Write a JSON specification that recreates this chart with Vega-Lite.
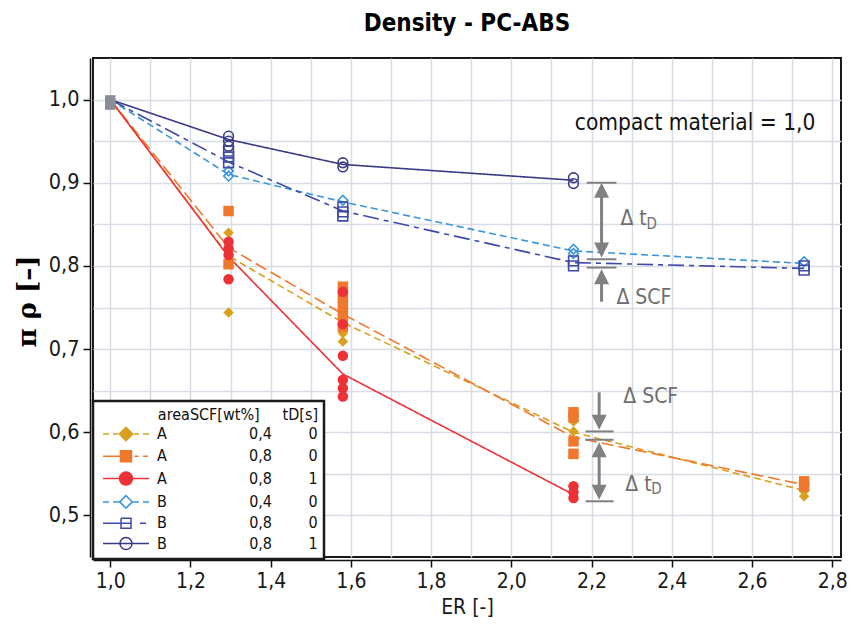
{
  "$schema": "https://vega.github.io/schema/vega-lite/v6.json",
  "width": 748,
  "height": 499,
  "autosize": {"type": "none"},
  "padding": {"left": 93, "top": 58, "right": 18, "bottom": 70},
  "background": "white",
  "title": {"text": "Density - PC-ABS", "font": "DejaVu Sans Condensed, DejaVu Sans", "fontSize": 24, "fontWeight": "bold", "color": "#000", "anchor": "middle", "offset": 22},
  "config": {
    "view": {"stroke": "#1a1a1a", "strokeWidth": 2},
    "legend": {"strokeWidth": 2.5},
    "axis": {"labelFont": "DejaVu Sans Condensed, DejaVu Sans", "titleFont": "DejaVu Sans Condensed, DejaVu Sans"}
  },
  "datasets": {
    "lines": [
      {"series": "A 0,4 0", "ER": 1.0, "rho": 1.0},
      {"series": "A 0,4 0", "ER": 1.295, "rho": 0.812},
      {"series": "A 0,4 0", "ER": 1.58, "rho": 0.732},
      {"series": "A 0,4 0", "ER": 2.155, "rho": 0.6},
      {"series": "A 0,4 0", "ER": 2.73, "rho": 0.53},
      {"series": "A 0,8 0", "ER": 1.0, "rho": 1.0},
      {"series": "A 0,8 0", "ER": 1.295, "rho": 0.822},
      {"series": "A 0,8 0", "ER": 1.58, "rho": 0.742},
      {"series": "A 0,8 0", "ER": 2.155, "rho": 0.594},
      {"series": "A 0,8 0", "ER": 2.73, "rho": 0.537},
      {"series": "A 0,8 1", "ER": 1.0, "rho": 1.0},
      {"series": "A 0,8 1", "ER": 1.295, "rho": 0.811},
      {"series": "A 0,8 1", "ER": 1.58, "rho": 0.67},
      {"series": "A 0,8 1", "ER": 2.155, "rho": 0.525},
      {"series": "B 0,4 0", "ER": 1.0, "rho": 1.0},
      {"series": "B 0,4 0", "ER": 1.295, "rho": 0.91},
      {"series": "B 0,4 0", "ER": 1.58, "rho": 0.877},
      {"series": "B 0,4 0", "ER": 2.155, "rho": 0.818},
      {"series": "B 0,4 0", "ER": 2.73, "rho": 0.803},
      {"series": "B 0,8 0", "ER": 1.0, "rho": 1.0},
      {"series": "B 0,8 0", "ER": 1.295, "rho": 0.925},
      {"series": "B 0,8 0", "ER": 1.58, "rho": 0.866},
      {"series": "B 0,8 0", "ER": 2.155, "rho": 0.804},
      {"series": "B 0,8 0", "ER": 2.73, "rho": 0.797},
      {"series": "B 0,8 1", "ER": 1.0, "rho": 1.0},
      {"series": "B 0,8 1", "ER": 1.295, "rho": 0.952},
      {"series": "B 0,8 1", "ER": 1.58, "rho": 0.922},
      {"series": "B 0,8 1", "ER": 2.155, "rho": 0.903}
    ],
    "pointsA": [
      {"series": "A 0,4 0", "ER": 1.295, "rho": 0.84},
      {"series": "A 0,4 0", "ER": 1.295, "rho": 0.744},
      {"series": "A 0,4 0", "ER": 1.58, "rho": 0.756},
      {"series": "A 0,4 0", "ER": 1.58, "rho": 0.744},
      {"series": "A 0,4 0", "ER": 1.58, "rho": 0.731},
      {"series": "A 0,4 0", "ER": 1.58, "rho": 0.719},
      {"series": "A 0,4 0", "ER": 1.58, "rho": 0.709},
      {"series": "A 0,4 0", "ER": 2.155, "rho": 0.613},
      {"series": "A 0,4 0", "ER": 2.155, "rho": 0.601},
      {"series": "A 0,4 0", "ER": 2.73, "rho": 0.529},
      {"series": "A 0,4 0", "ER": 2.73, "rho": 0.523},
      {"series": "A 0,8 0", "ER": 1.295, "rho": 0.866},
      {"series": "A 0,8 0", "ER": 1.295, "rho": 0.802},
      {"series": "A 0,8 0", "ER": 1.58, "rho": 0.775},
      {"series": "A 0,8 0", "ER": 1.58, "rho": 0.763},
      {"series": "A 0,8 0", "ER": 1.58, "rho": 0.751},
      {"series": "A 0,8 0", "ER": 1.58, "rho": 0.74},
      {"series": "A 0,8 0", "ER": 1.58, "rho": 0.727},
      {"series": "A 0,8 0", "ER": 2.155, "rho": 0.624},
      {"series": "A 0,8 0", "ER": 2.155, "rho": 0.618},
      {"series": "A 0,8 0", "ER": 2.155, "rho": 0.589},
      {"series": "A 0,8 0", "ER": 2.155, "rho": 0.574},
      {"series": "A 0,8 0", "ER": 2.73, "rho": 0.541},
      {"series": "A 0,8 0", "ER": 2.73, "rho": 0.535},
      {"series": "A 0,8 1", "ER": 1.295, "rho": 0.829},
      {"series": "A 0,8 1", "ER": 1.295, "rho": 0.821},
      {"series": "A 0,8 1", "ER": 1.295, "rho": 0.813},
      {"series": "A 0,8 1", "ER": 1.295, "rho": 0.784},
      {"series": "A 0,8 1", "ER": 1.58, "rho": 0.769},
      {"series": "A 0,8 1", "ER": 1.58, "rho": 0.73},
      {"series": "A 0,8 1", "ER": 1.58, "rho": 0.692},
      {"series": "A 0,8 1", "ER": 1.58, "rho": 0.663},
      {"series": "A 0,8 1", "ER": 1.58, "rho": 0.653},
      {"series": "A 0,8 1", "ER": 1.58, "rho": 0.643},
      {"series": "A 0,8 1", "ER": 2.155, "rho": 0.535},
      {"series": "A 0,8 1", "ER": 2.155, "rho": 0.528},
      {"series": "A 0,8 1", "ER": 2.155, "rho": 0.521}
    ],
    "pointsB": [
      {"series": "B 0,4 0", "ER": 1.295, "rho": 0.914},
      {"series": "B 0,4 0", "ER": 1.295, "rho": 0.908},
      {"series": "B 0,4 0", "ER": 1.58, "rho": 0.879},
      {"series": "B 0,4 0", "ER": 2.155, "rho": 0.82},
      {"series": "B 0,4 0", "ER": 2.155, "rho": 0.815},
      {"series": "B 0,4 0", "ER": 2.73, "rho": 0.805},
      {"series": "B 0,8 0", "ER": 1.295, "rho": 0.938},
      {"series": "B 0,8 0", "ER": 1.295, "rho": 0.931},
      {"series": "B 0,8 0", "ER": 1.295, "rho": 0.924},
      {"series": "B 0,8 0", "ER": 1.58, "rho": 0.871},
      {"series": "B 0,8 0", "ER": 1.58, "rho": 0.865},
      {"series": "B 0,8 0", "ER": 1.58, "rho": 0.86},
      {"series": "B 0,8 0", "ER": 2.155, "rho": 0.806},
      {"series": "B 0,8 0", "ER": 2.155, "rho": 0.8},
      {"series": "B 0,8 0", "ER": 2.73, "rho": 0.8},
      {"series": "B 0,8 0", "ER": 2.73, "rho": 0.795},
      {"series": "B 0,8 1", "ER": 1.295, "rho": 0.956},
      {"series": "B 0,8 1", "ER": 1.295, "rho": 0.95},
      {"series": "B 0,8 1", "ER": 1.295, "rho": 0.944},
      {"series": "B 0,8 1", "ER": 1.58, "rho": 0.924},
      {"series": "B 0,8 1", "ER": 1.58, "rho": 0.919},
      {"series": "B 0,8 1", "ER": 2.155, "rho": 0.906},
      {"series": "B 0,8 1", "ER": 2.155, "rho": 0.899}
    ],
    "start": [
      {"ER": 1.0, "rho": 0.999},
      {"ER": 1.0, "rho": 0.994}
    ],
    "bars": [
      {"ER": 2.188, "ER2": 2.262, "rho": 0.9},
      {"ER": 2.188, "ER2": 2.262, "rho": 0.808},
      {"ER": 2.188, "ER2": 2.262, "rho": 0.798},
      {"ER": 2.185, "ER2": 2.255, "rho": 0.601},
      {"ER": 2.185, "ER2": 2.255, "rho": 0.591},
      {"ER": 2.185, "ER2": 2.255, "rho": 0.517}
    ],
    "shafts": [
      {"ER": 2.225, "rho": 0.884, "rho2": 0.826},
      {"ER": 2.225, "rho": 0.757, "rho2": 0.781},
      {"ER": 2.219, "rho": 0.648, "rho2": 0.617},
      {"ER": 2.219, "rho": 0.573, "rho2": 0.535}
    ],
    "heads": [
      {"ER": 2.225, "rho": 0.891, "dir": "up"},
      {"ER": 2.225, "rho": 0.819, "dir": "down"},
      {"ER": 2.225, "rho": 0.787, "dir": "up"},
      {"ER": 2.219, "rho": 0.612, "dir": "down"},
      {"ER": 2.219, "rho": 0.579, "dir": "up"},
      {"ER": 2.219, "rho": 0.528, "dir": "down"}
    ],
    "notes": [
      {"ER": 2.272, "rho": 0.856, "text": "Δ t"},
      {"ER": 2.262, "rho": 0.762, "text": "Δ SCF"},
      {"ER": 2.279, "rho": 0.642, "text": "Δ SCF"},
      {"ER": 2.284, "rho": 0.537, "text": "Δ t"}
    ],
    "subs": [
      {"ER": 2.337, "rho": 0.851, "text": "D"},
      {"ER": 2.349, "rho": 0.532, "text": "D"}
    ],
    "caption": [
      {"ER": 2.758, "rho": 0.972, "text": "compact material = 1,0"}
    ]
  },
  "encoding": {
    "x": {"field": "ER", "type": "quantitative", "scale": {"domain": [0.957, 2.822], "nice": false, "zero": false},
      "axis": {
        "values": [1.0, 1.1, 1.2, 1.3, 1.4, 1.5, 1.6, 1.7, 1.8, 1.9, 2.0, 2.1, 2.2, 2.3, 2.4, 2.5, 2.6, 2.7, 2.8],
        "labelExpr": "round(datum.value*10)%2==0 ? replace(format(datum.value,'.1f'),'.',',') : ''",
        "tickOpacity": {"condition": {"test": "round(datum.value*10)%2==1", "value": 0}, "value": 1},
        "grid": true, "gridColor": "#d8dce4", "gridWidth": 1.5,
        "domainColor": "#111", "domainWidth": 1.5, "offset": 3,
        "tickSize": 7, "tickColor": "#111", "tickWidth": 1.5,
        "labelFontSize": 21, "labelColor": "#1a1a1a", "labelPadding": 3, "labelOverlap": false, "labelFlush": false,
        "title": "ER [-]", "titleFontSize": 21, "titleFontWeight": "normal", "titleColor": "#1a1a1a", "titlePadding": 5
      }},
    "y": {"field": "rho", "type": "quantitative", "scale": {"domain": [0.45, 1.05], "nice": false, "zero": false},
      "axis": {
        "values": [0.5, 0.55, 0.6, 0.65, 0.7, 0.75, 0.8, 0.85, 0.9, 0.95, 1.0],
        "labelExpr": "round(datum.value*100)%10==0 ? replace(format(datum.value,'.1f'),'.',',') : ''",
        "tickOpacity": {"condition": {"test": "round(datum.value*100)%10!=0", "value": 0}, "value": 1},
        "grid": true, "gridColor": "#d8dce4", "gridWidth": 1.5,
        "domainColor": "#111", "domainWidth": 1.5, "offset": 3,
        "tickSize": 7, "tickColor": "#111", "tickWidth": 1.5,
        "labelFontSize": 21.5, "labelColor": "#1a1a1a", "labelPadding": 4, "labelOverlap": false, "labelFlush": false,
        "title": "π ρ [–]", "titleFont": "DejaVu Serif", "titleFontSize": 26, "titleFontWeight": "bold", "titleColor": "#000", "titlePadding": 8, "titleY": 243
      }}
  },
  "layer": [
    {
      "data": {"values": [{}]},
      "mark": {"type": "rule", "color": "#2a2a2a", "strokeWidth": 1.8},
      "encoding": {"x": {"datum": 0.957}, "x2": {"datum": 2.822}, "y": {"datum": 1.0}}
    },
    {
      "data": {"name": "lines"},
      "mark": {"type": "line", "strokeWidth": 1.6},
      "encoding": {
        "color": {"field": "series", "type": "nominal", "legend": null,
          "scale": {"domain": ["A 0,4 0", "A 0,8 0", "A 0,8 1", "B 0,4 0", "B 0,8 0", "B 0,8 1"],
                    "range": ["#D9A01E", "#F0782D", "#EC3237", "#3A95DB", "#3F4AA8", "#3B3A85"]}},
        "strokeDash": {"field": "series", "type": "nominal", "legend": null,
          "scale": {"domain": ["A 0,4 0", "A 0,8 0", "A 0,8 1", "B 0,4 0", "B 0,8 0", "B 0,8 1"],
                    "range": [[7, 4], [12, 5], [1, 0], [7, 4], [16, 5, 5, 5], [1, 0]]}}
      }
    },
    {
      "data": {"name": "start"},
      "mark": {"type": "point", "filled": true, "shape": "square", "size": 110, "color": "#8a8d94", "opacity": 1}
    },
    {
      "data": {"name": "pointsA"},
      "mark": {"type": "point", "filled": true, "size": 110, "opacity": 1},
      "encoding": {
        "color": {"field": "series", "type": "nominal", "legend": null},
        "shape": {"field": "series", "type": "nominal", "legend": null,
          "scale": {"domain": ["A 0,4 0", "A 0,8 0", "A 0,8 1"], "range": ["diamond", "square", "circle"]}}
      }
    },
    {
      "data": {"name": "pointsB"},
      "mark": {"type": "point", "filled": false, "size": 95, "strokeWidth": 1.6, "opacity": 1},
      "encoding": {
        "color": {"field": "series", "type": "nominal", "legend": null},
        "shape": {"field": "series", "type": "nominal", "legend": null,
          "scale": {"domain": ["B 0,4 0", "B 0,8 0", "B 0,8 1"], "range": ["diamond", "square", "circle"]}}
      }
    },
    {
      "data": {"name": "bars"},
      "mark": {"type": "rule", "color": "#808080", "strokeWidth": 2},
      "encoding": {"x": {"field": "ER", "type": "quantitative"}, "x2": {"field": "ER2"}, "y": {"field": "rho", "type": "quantitative"}}
    },
    {
      "data": {"name": "shafts"},
      "mark": {"type": "rule", "color": "#808080", "strokeWidth": 3},
      "encoding": {"x": {"field": "ER", "type": "quantitative"}, "y": {"field": "rho", "type": "quantitative"}, "y2": {"field": "rho2"}}
    },
    {
      "data": {"name": "heads"},
      "mark": {"type": "point", "filled": true, "size": 225, "color": "#808080", "opacity": 1},
      "encoding": {
        "shape": {"field": "dir", "type": "nominal", "legend": null,
          "scale": {"domain": ["up", "down"], "range": ["M0,-1L1,1L-1,1Z", "M0,1L1,-1L-1,-1Z"]}}
      }
    },
    {
      "data": {"name": "notes"},
      "mark": {"type": "text", "align": "left", "baseline": "middle", "font": "DejaVu Sans Condensed, DejaVu Sans", "fontSize": 21, "color": "#6e6e6e"},
      "encoding": {"text": {"field": "text"}}
    },
    {
      "data": {"name": "subs"},
      "mark": {"type": "text", "align": "left", "baseline": "middle", "font": "DejaVu Sans Condensed, DejaVu Sans", "fontSize": 15, "color": "#6e6e6e"},
      "encoding": {"text": {"field": "text"}}
    },
    {
      "data": {"name": "caption"},
      "mark": {"type": "text", "align": "right", "baseline": "middle", "font": "DejaVu Sans Condensed, DejaVu Sans", "fontSize": 22.5, "color": "#111"},
      "encoding": {"text": {"field": "text"}}
    },
    {
      "data": {"name": "lines"},
      "mark": {"type": "point", "opacity": 0},
      "encoding": {
        "shape": {"field": "series", "type": "nominal",
          "scale": {"domain": ["A 0,4 0", "A 0,8 0", "A 0,8 1", "B 0,4 0", "B 0,8 0", "B 0,8 1"],
            "range": [
              "M-4.6,0H-3.4M-2.6,0H-1.6M1.6,0H2.6M3.4,0H4.6M-1.35,0L0,-1.35L1.35,0L0,1.35Z",
              "M-4.6,0H-1.1M1.7,0H2.5M3.4,0H4.4M-1.1,-1.1H1.1V1.1H-1.1Z",
              "M-4.6,0H4.6M1.3,0A1.3,1.3,0,1,1,-1.3,0A1.3,1.3,0,1,1,1.3,0Z",
              "M-4.6,0H-3.4M-2.6,0H-1.3M1.3,0H2.6M3.4,0H4.6M-1.25,0L0,-1.25L1.25,0L0,1.25L-1.25,0L0,1.25L1.25,0L0,-1.25Z",
              "M-4.6,0H1.0M2.8,0H4.0M-1,-1H1V1H-1V-1V1H1V-1H-1Z",
              "M-4.6,0H4.6M1.2,0A1.2,1.2,0,1,1,-1.2,0A1.2,1.2,0,1,1,1.2,0A1.2,1.2,0,1,0,-1.2,0A1.2,1.2,0,1,0,1.2,0Z"
            ]},
          "legend": {
            "title": "areaSCF[wt%]\u00a0\u00a0\u00a0\u00a0\u00a0tD[s]",
            "orient": "none", "legendX": 0, "legendY": 343, "direction": "vertical",
            "labelExpr": "split(datum.label,' ')[0] + '\u00a0\u00a0\u00a0\u00a0\u00a0\u00a0\u00a0\u00a0\u00a0\u00a0\u00a0\u00a0\u00a0\u00a0\u00a0\u00a0\u00a0\u00a0' + split(datum.label,' ')[1] + '\u00a0\u00a0\u00a0\u00a0\u00a0\u00a0\u00a0\u00a0' + split(datum.label,' ')[2]",
            "labelFont": "DejaVu Sans Condensed, DejaVu Sans", "labelFontSize": 16, "labelColor": "#111", "labelLimit": 400,
            "titleFont": "DejaVu Sans Condensed, DejaVu Sans", "titleFontSize": 16, "titleFontWeight": "normal", "titleColor": "#111", "titleAnchor": "end", "titlePadding": 3, "titleLimit": 400,
            "symbolSize": 100, "symbolStrokeWidth": 1.5, "symbolOpacity": 1, "symbolOffset": 19, "labelOffset": 23,
            "padding": 6, "rowPadding": 3.3, "strokeColor": "#1a1a1a", "fillColor": "white"
          }},
        "fill": {"field": "series", "type": "nominal",
          "scale": {"domain": ["A 0,4 0", "A 0,8 0", "A 0,8 1", "B 0,4 0", "B 0,8 0", "B 0,8 1"],
                    "range": ["#D9A01E", "#F0782D", "#EC3237", "#3A95DB", "#3F4AA8", "#3B3A85"]},
          "legend": {"title": "areaSCF[wt%]\u00a0\u00a0\u00a0\u00a0\u00a0tD[s]", "orient": "none", "legendX": 0, "legendY": 343, "symbolOpacity": 1}},
        "stroke": {"field": "series", "type": "nominal",
          "scale": {"domain": ["A 0,4 0", "A 0,8 0", "A 0,8 1", "B 0,4 0", "B 0,8 0", "B 0,8 1"],
                    "range": ["#D9A01E", "#F0782D", "#EC3237", "#3A95DB", "#3F4AA8", "#3B3A85"]},
          "legend": {"title": "areaSCF[wt%]\u00a0\u00a0\u00a0\u00a0\u00a0tD[s]", "orient": "none", "legendX": 0, "legendY": 343, "symbolOpacity": 1}}
      }
    }
  ],
  "resolve": {"scale": {"shape": "independent", "fill": "independent", "stroke": "independent"}}
}
